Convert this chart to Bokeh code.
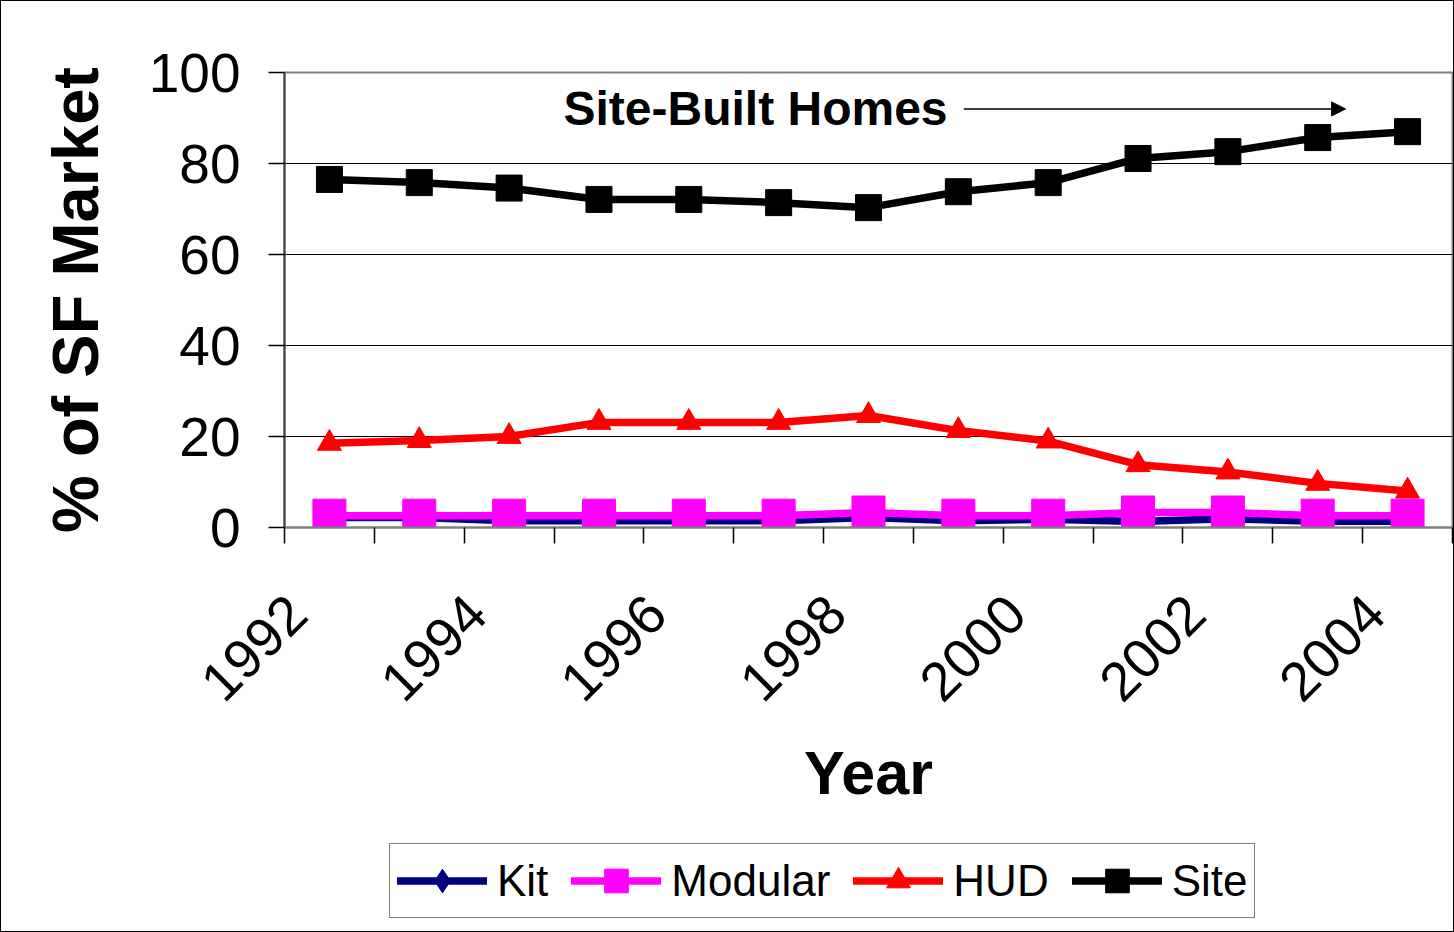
import math
from bokeh.plotting import figure
from bokeh.layouts import column
from bokeh.models import Range1d, FixedTicker, Label, Arrow, NormalHead, Legend, LegendItem
from bokeh.embed import file_html
from bokeh.resources import INLINE

# ---- data ----
years = ["1992", "1993", "1994", "1995", "1996", "1997", "1998",
         "1999", "2000", "2001", "2002", "2003", "2004"]
kit = [2.2, 2.2, 1.5, 1.5, 1.5, 1.5, 2.2, 1.5, 1.8, 1.3, 1.9, 1.4, 1.4]
modular = [2.6, 2.6, 2.6, 2.6, 2.6, 2.6, 3.3, 2.6, 2.6, 3.3, 3.3, 2.6, 2.6]
hud = [18.5, 19.1, 20.0, 23.1, 23.1, 23.1, 24.6, 21.3, 19.0, 13.8, 12.2, 9.7, 8.0]
site = [76.5, 75.8, 74.6, 72.1, 72.1, 71.4, 70.3, 73.8, 75.8, 81.1, 82.6, 85.7, 87.0]
y_ticks = [0, 20, 40, 60, 80, 100]
label_every = 2

FONT = "Liberation Sans"
n = len(years)
xs = [i + 0.5 for i in range(n)]

W = 1452
H1, H2 = 834, 96
p = figure(width=W, height=H1, x_range=Range1d(0, n), y_range=Range1d(0, 100),
           output_backend="svg", toolbar_location=None,
           min_border_left=283, min_border_right=1, min_border_top=71,
           min_border_bottom=H1 - 526)
p.background_fill_color = "white"
p.border_fill_color = "white"
p.outline_line_color = "#808080"
p.outline_line_width = 2

# grid
p.xgrid.visible = False
p.ygrid.ticker = FixedTicker(ticks=y_ticks)
p.ygrid.grid_line_color = "black"
p.ygrid.grid_line_width = 1

# y axis
ya = p.yaxis[0]
ya.ticker = FixedTicker(ticks=y_ticks)
ya.major_label_text_font = FONT
ya.major_label_text_font_size = "55px"
ya.major_label_text_color = "black"
ya.major_tick_out = 16
ya.major_tick_in = 0
ya.major_tick_line_color = "black"
ya.major_tick_line_width = 1.5
ya.minor_tick_line_color = None
ya.major_label_standoff = 28
ya.axis_line_color = "#404040"
ya.axis_line_width = 2
ya.axis_label = "% of SF Market"
ya.axis_label_text_font = FONT
ya.axis_label_text_font_size = "65px"
ya.axis_label_text_font_style = "bold"
ya.axis_label_text_color = "black"
ya.axis_label_standoff = 34

# x axis
LABEL_SHIFT = 0.36
label_idx = list(range(0, n, label_every))
major = [xs[i] - LABEL_SHIFT for i in label_idx]
xa = p.xaxis[0]
xa.ticker = FixedTicker(ticks=major, minor_ticks=list(range(n + 1)))
xa.major_label_overrides = {major[k]: years[i] for k, i in enumerate(label_idx)}
xa.major_label_orientation = math.pi / 4
xa.major_label_text_font = FONT
xa.major_label_text_font_size = "55px"
xa.major_label_text_color = "black"
xa.major_label_standoff = 61
xa.major_tick_line_color = None
xa.major_tick_out = 0
xa.major_tick_in = 0
xa.minor_tick_out = 16
xa.minor_tick_in = 0
xa.minor_tick_line_color = "black"
xa.minor_tick_line_width = 1.5
xa.axis_line_color = "#808080"
xa.axis_line_width = 2
xa.axis_label = "Year"
xa.axis_label_text_font = FONT
xa.axis_label_text_font_size = "61px"
xa.axis_label_text_font_style = "bold"
xa.axis_label_text_color = "black"
xa.axis_label_standoff = 18

# legend strip (its own figure so the legend is not clipped by the plot frame;
# its frame is aligned with the chart's frame by the column layout)
q = figure(width=W, height=H2, x_range=Range1d(-100, -99), y_range=Range1d(-100, -99),
           output_backend="svg", toolbar_location=None,
           x_axis_location=None, y_axis_location=None, min_border=0)
q.xgrid.visible = False
q.ygrid.visible = False
q.outline_line_color = None
q.background_fill_color = "white"
q.border_fill_color = "white"

series = [
    ("Kit", kit, "#000080", "diamond", 30),
    ("Modular", modular, "#FF00FF", "square", 33),
    ("HUD", hud, "#FF0000", "triangle", 24),
    ("Site", site, "#000000", "square", 26),
]
items = []
for name, vals, color, marker, size in series:
    p.line(xs, vals, line_color=color, line_width=7.5, line_cap="round", line_join="round")
    p.scatter(xs, vals, marker=marker, size=size, fill_color=color, line_color=color)
    ln = q.line(xs, vals, line_color=color, line_width=7.5, line_cap="round", line_join="round")
    sc = q.scatter(xs, vals, marker=marker, size=size, fill_color=color, line_color=color)
    items.append(LegendItem(label=name, renderers=[ln, sc]))

legend = Legend(items=items, orientation="horizontal", location=(105, 13))
legend.glyph_width = 90
legend.glyph_height = 59
legend.label_standoff = 10
legend.spacing = 23
legend.padding = 7
legend.margin = 0
legend.label_text_font = FONT
legend.label_text_font_size = "44px"
legend.label_text_color = "black"
legend.border_line_color = "black"
legend.border_line_width = 1.5
legend.background_fill_color = "white"
legend.background_fill_alpha = 1
q.add_layout(legend)

# annotation
p.add_layout(Label(x=3.105, y=92, text="Site-Built Homes", text_font=FONT,
                   text_font_size="48px", text_font_style="bold", text_color="black",
                   text_baseline="middle", text_align="left"))
p.add_layout(Arrow(end=NormalHead(size=14, fill_color="black", line_color="black"),
                   x_start=7.56, y_start=92, x_end=11.81, y_end=92,
                   line_color="black", line_width=1.5))

layout = column(p, q, spacing=0)
layout.styles = {"border": "1px solid black"}

open("out.html", "w").write(file_html(layout, INLINE))
